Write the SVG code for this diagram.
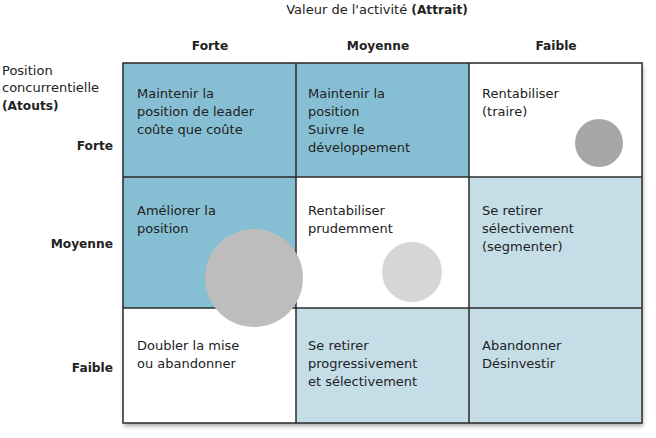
<svg xmlns="http://www.w3.org/2000/svg" width="656" height="438" viewBox="0 0 656 438">
<defs>
<style>
text{font-family:"DejaVu Sans","Liberation Sans",Arial,sans-serif;fill:#222;font-size:13px}
.b{font-weight:bold;font-size:12.2px}
.h{font-weight:bold;text-anchor:middle;font-size:12.2px}
.r{font-weight:bold;text-anchor:end;font-size:12.2px}
.dk{fill:#86bfd3}
.lt{fill:#c5dde7}
.wh{fill:#ffffff}
.grid{stroke:#2a2a2a;stroke-width:1.5;fill:none}
</style>
<filter id="sh" x="-5%" y="-5%" width="115%" height="115%">
<feDropShadow dx="1" dy="3" stdDeviation="2" flood-color="#000" flood-opacity="0.35"/>
</filter>
</defs>
<rect width="656" height="438" fill="#fff"/>
<text x="377" y="14" text-anchor="middle">Valeur de l'activité <tspan class="b">(Attrait)</tspan></text>
<g id="col-headers">
<text class="h" x="210" y="50">Forte</text>
<text class="h" x="378" y="50">Moyenne</text>
<text class="h" x="556" y="50">Faible</text>
</g>
<g id="row-headers">
<text x="2" y="75">Position</text>
<text x="2" y="92">concurrentielle</text>
<text class="b" x="2" y="110">(Atouts)</text>
<text class="r" x="113" y="150">Forte</text>
<text class="r" x="113" y="248">Moyenne</text>
<text class="r" x="113" y="372">Faible</text>
</g>
<rect x="123" y="63" width="519" height="360" fill="#fff" filter="url(#sh)"/>
<g id="cell-1-1"><rect class="dk" x="123" y="63" width="173" height="114"/>
<text x="137" y="98">Maintenir la</text><text x="137" y="116">position de leader</text><text x="137" y="134">coûte que coûte</text></g>
<g id="cell-1-2"><rect class="dk" x="296" y="63" width="173" height="114"/>
<text x="308" y="98">Maintenir la</text><text x="308" y="116">position</text><text x="308" y="134">Suivre le</text><text x="308" y="152">développement</text></g>
<g id="cell-1-3"><rect class="wh" x="469" y="63" width="173" height="114"/>
<text x="482" y="98">Rentabiliser</text><text x="482" y="116">(traire)</text></g>
<g id="cell-2-1"><rect class="dk" x="123" y="177" width="173" height="131"/>
<text x="137" y="215">Améliorer la</text><text x="137" y="233">position</text></g>
<g id="cell-2-2"><rect class="wh" x="296" y="177" width="173" height="131"/>
<text x="308" y="215">Rentabiliser</text><text x="308" y="233">prudemment</text></g>
<g id="cell-2-3"><rect class="lt" x="469" y="177" width="173" height="131"/>
<text x="482" y="215">Se retirer</text><text x="482" y="233">sélectivement</text><text x="482" y="251">(segmenter)</text></g>
<g id="cell-3-1"><rect class="wh" x="123" y="308" width="173" height="115"/>
<text x="137" y="350">Doubler la mise</text><text x="137" y="368">ou abandonner</text></g>
<g id="cell-3-2"><rect class="lt" x="296" y="308" width="173" height="115"/>
<text x="308" y="350">Se retirer</text><text x="308" y="368">progressivement</text><text x="308" y="386">et sélectivement</text></g>
<g id="cell-3-3"><rect class="lt" x="469" y="308" width="173" height="115"/>
<text x="482" y="350">Abandonner</text><text x="482" y="368">Désinvestir</text></g>
<g id="connectors">
<rect class="grid" x="123" y="63" width="519" height="360"/>
<line class="grid" x1="296" y1="63" x2="296" y2="423"/>
<line class="grid" x1="469" y1="63" x2="469" y2="423"/>
<line class="grid" x1="123" y1="177" x2="642" y2="177"/>
<line class="grid" x1="123" y1="308" x2="642" y2="308"/>
</g>
<g id="circles">
<circle cx="599" cy="143" r="24" fill="#a6a6a6"/>
<circle cx="412" cy="272" r="30" fill="#d6d6d6"/>
<circle cx="254" cy="278" r="49" fill="#bdbdbd"/>
</g>
</svg>
